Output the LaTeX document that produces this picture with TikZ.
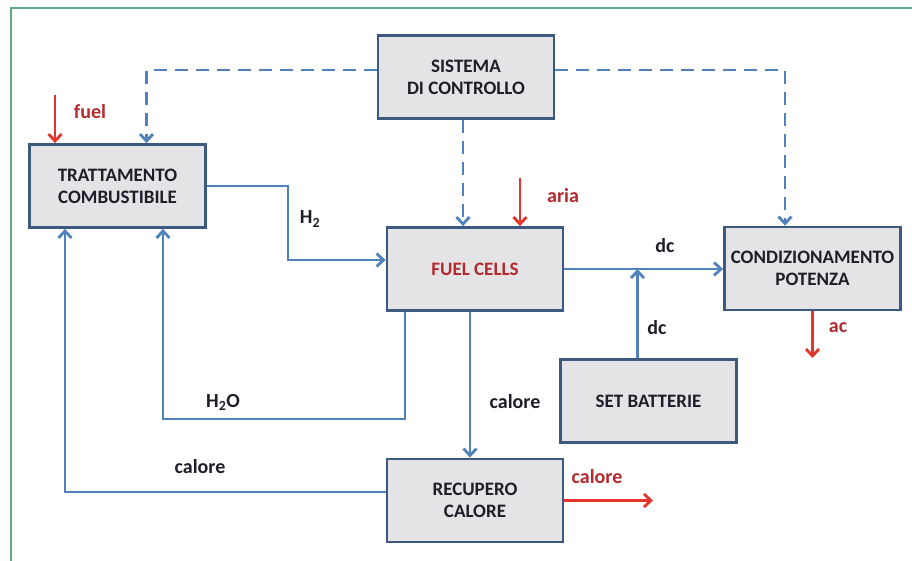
\documentclass[tikz,border=0pt]{standalone}
\usepackage{fontspec}
\setmainfont{Carlito}
\usepackage{tikz}
\usetikzlibrary{positioning,arrows.meta}

\definecolor{boxfill}{HTML}{E4E4E6}
\definecolor{boxline}{HTML}{3C5A80}
\definecolor{flowblue}{HTML}{4F81BD}
\definecolor{hotred}{HTML}{E4352C}
\definecolor{lblred}{HTML}{B42A2E}
\definecolor{framegreen}{HTML}{5FA882}
\definecolor{txt}{HTML}{1E1E28}

\begin{document}
\begin{tikzpicture}[x=1pt, y=-1pt,
    every node/.style={inner sep=2pt, font=\bfseries\fontsize{20}{21}\selectfont, text=txt},
    box/.style={draw=boxline, line width=2.8pt, fill=boxfill, minimum width=176pt,
                minimum height=83pt, align=center, font=\bfseries\fontsize{19}{22}\selectfont},
    flow/.style={draw=flowblue, line width=2.8pt, -{Straight Barb[length=7pt,width=13pt]}},
    ctrl/.style={flow, dash pattern=on 13pt off 8pt},
    hot/.style={draw=hotred, line width=2.8pt, -{Straight Barb[length=7pt,width=13pt]}},
    redlbl/.style={text=lblred}]
    \useasboundingbox (0,0) rectangle (912,561);
    \draw[framegreen, line width=2.5pt] (11,561) -- (11,8) -- (912,8);

    % nodes
    \node[box] (ctrl)  at (466,77)    {SISTEMA\\DI CONTROLLO};
    \node[box] (tratt) at (117.5,186) {TRATTAMENTO\\COMBUSTIBILE};
    \node[box] (fc)    at (475,269)   {\color{lblred}FUEL CELLS};
    \node[box] (cond)  at (812.5,268.5) {CONDIZIONAMENTO\\POTENZA};
    \node[box] (batt)  at (648.5,401) {SET BATTERIE};
    \node[box] (recup) at (475,500.5) {RECUPERO\\CALORE};

    % labels
    \node[redlbl] (fuellbl) at (90,112)  {fuel};
    \node[redlbl] (arialbl) at (563,196) {aria};
    \node (h2lbl)   at (310,219) {H\textsubscript{2}};
    \node (dclbl)   at (665,246) {dc};
    \node (dcblbl)  at (657,328) {dc};
    \node[redlbl] (aclbl) at (838,328) {ac};
    \node (h2olbl)  at (223,402) {H\textsubscript{2}O};
    \node (callbl)  at (515,402) {calore};
    \node (calblbl) at (200,467) {calore};
    \node[redlbl] (calrlbl) at (597,477) {calore};

    % free ends
    \coordinate (fuelin) at (55,95);
    \coordinate (ariain) at (520,178);
    \coordinate (h2x)    at (288,0);
    \coordinate (acout)  at (812.5,358);
    \coordinate (calout) at (653,500.5);
    \coordinate (bj)     at ([xshift=-11pt]batt.north);

    % control lines
    \draw[ctrl] ([yshift=7pt]ctrl.west) -| ([xshift=29pt]tratt.north);
    \draw[ctrl] ([yshift=7pt]ctrl.east) -| ([xshift=-27.5pt]cond.north);
    \draw[ctrl] ([xshift=-3pt]ctrl.south) -- ([xshift=-3pt]ctrl.south |- fc.north);

    % inputs and outputs
    \draw[hot] (fuelin) -- (fuelin |- tratt.north);
    \draw[hot] (ariain) -- (ariain |- fc.north);
    \draw[hot] (cond.south) -- (acout);
    \draw[hot] (recup.east) -- (calout);

    % H2 to fuel cells
    \draw[flow] (tratt.east) -- (tratt.east -| h2x) |- ([yshift=9pt]fc.west);

    % dc lines
    \draw[flow] (fc.east) -- (fc.east -| cond.west);
    \draw[flow] (bj) -- (bj |- fc.east);

    % return lines
    \draw[flow] ([xshift=-70pt]fc.south) -- ++(0,107) -| ([xshift=45.5pt]tratt.south);
    \draw[flow] ([xshift=-5pt]fc.south) -- ([xshift=-5pt]recup.north);
    \draw[flow] ([yshift=8.5pt]recup.west) -| ([xshift=-52.5pt]tratt.south);
\end{tikzpicture}
\end{document}
